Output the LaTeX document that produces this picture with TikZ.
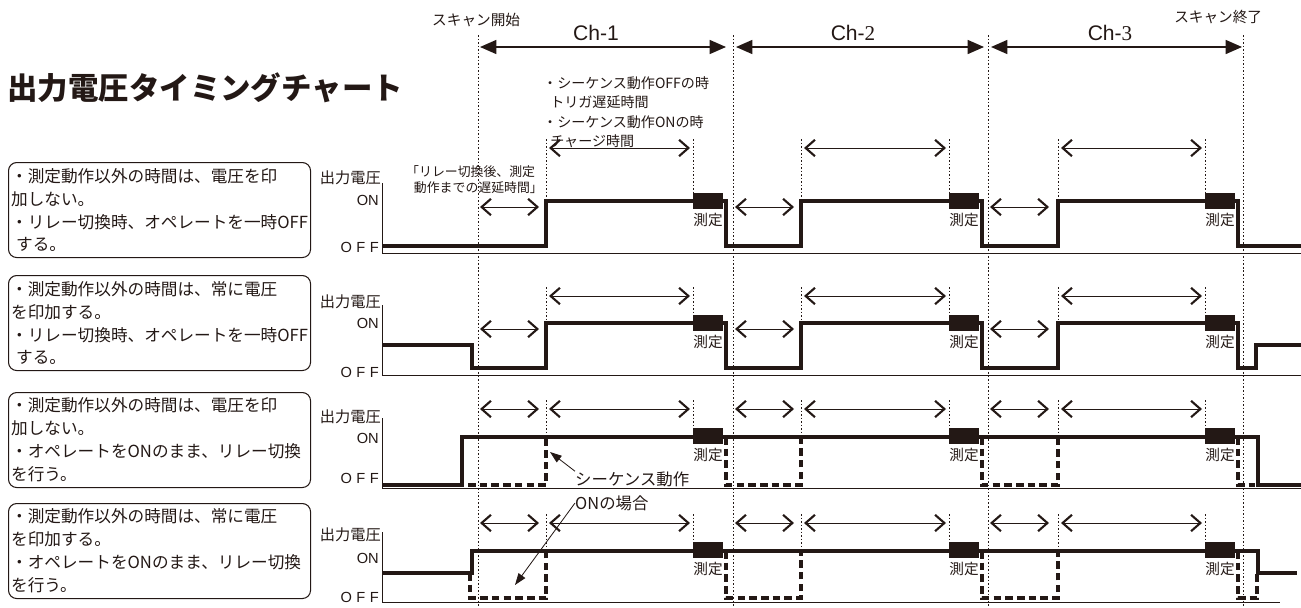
\documentclass[tikz,border=0pt]{standalone}
\usepackage{fontspec}
\setmainfont{Noto Sans CJK JP}
\newfontfamily\latinsf{Liberation Sans}
\newfontfamily\latinrm{Liberation Serif}
\usetikzlibrary{arrows.meta}
\definecolor{inkblack}{RGB}{35,24,21}
\tikzset{
  sig/.style={line width=3.1pt,draw=inkblack},
  sigdash/.style={line width=3.1pt,draw=inkblack,dash pattern=on 6.5pt off 3.5pt},
  guide/.style={line width=0.7pt,draw=inkblack,dash pattern=on 1.3pt off 1.7pt},
  axisline/.style={line width=0.8pt,draw=inkblack},
  chev/.tip={Straight Barb[length=8pt,width=14pt,line width=1.8pt]},
  span/.style={line width=0.8pt,draw=inkblack,chev-chev},
  chspan/.style={line width=1.2pt,draw=inkblack,{Triangle[length=14pt,width=12pt]}-{Triangle[length=14pt,width=12pt]}},
  pointer/.style={line width=0.7pt,draw=inkblack,-{Triangle[length=10pt,width=7pt]}},
  descbox/.style={draw=inkblack,text=inkblack,line width=0.9pt,rounded corners=7pt,anchor=north west,
    minimum width=9.06cm,minimum height=2.85cm,text width=8.9cm,inner xsep=1pt,
    align=left,font=\fontsize{14.2}{19.6}\selectfont},
  note/.style={text=inkblack,inner sep=0pt,align=left},
  axislabel/.style={text=inkblack,inner sep=0pt,anchor=east,font=\fontsize{13}{15}\selectfont},
  levellabel/.style={text=inkblack,inner sep=0pt,anchor=east,font=\latinsf\fontsize{12.5}{14}\selectfont},
  measlabel/.style={text=inkblack,inner sep=0pt,font=\fontsize{12.5}{14}\selectfont},
  chlabel/.style={text=inkblack,inner sep=0pt,font=\latinsf\fontsize{18}{20}\selectfont},
}

\begin{document}
\begin{tikzpicture}[x=0.03cm,y=-0.03cm]
  \useasboundingbox (0,0) rectangle (1301,607);

  \node[note,anchor=west,font=\fontsize{26}{30}\selectfont\bfseries] (title) at (7,88) {出力電圧タイミングチャート};

  % scan and channel frame
  \node[note,anchor=west,font=\fontsize{12.5}{14}\selectfont] (scanstart) at (432,20) {スキャン開始};
  \node[note,anchor=west,font=\fontsize{12.5}{14}\selectfont] (scanend) at (1174,17) {スキャン終了};
  \foreach \c in {478,733,988,1243}
    \draw[guide] (\c,35) -- (\c,607);
  \node[chlabel] (ch1) at (596,33) {Ch-1};
  \node[chlabel] (ch2) at (853,33) {Ch-{\latinrm 2}};
  \node[chlabel] (ch3) at (1110,33) {Ch-{\latinrm 3}};
  \draw[chspan] (480,47) -- (726,47);
  \draw[chspan] (736,47) -- (984,47);
  \draw[chspan] (991,47) -- (1242,47);

  \node[note,anchor=west,font=\fontsize{12}{16.6}\selectfont] (seqnote) at (543,112)
    {・シーケンス動作OFFの時\\\hspace{0.5em}トリガ遅延時間\\・シーケンス動作ONの時\\\hspace{0.5em}チャージ時間};
  \node[note,anchor=west,font=\fontsize{11}{13.7}\selectfont] (delaynote) at (406,180)
    {「リレー切換後、測定\\\hspace{0.6em}動作までの遅延時間」};

  % mode boxes
  \node[descbox] (mode1) at (8,162) {・測定動作以外の時間は、電圧を印\\加しない。\\・リレー切換時、オペレートを一時OFF\\\hspace{0.3em}する。};
  \node[descbox] (mode2) at (8,275) {・測定動作以外の時間は、常に電圧\\を印加する。\\・リレー切換時、オペレートを一時OFF\\\hspace{0.3em}する。};
  \node[descbox] (mode3) at (8,392) {・測定動作以外の時間は、電圧を印\\加しない。\\・オペレートをONのまま、リレー切換\\を行う。};
  \node[descbox] (mode4) at (8,503) {・測定動作以外の時間は、常に電圧\\を印加する。\\・オペレートをONのまま、リレー切換\\を行う。};

  % axes, spans and measurements of every row
  \foreach \r/\b/\lab/\on/\off/\xend/\ys/\yc in
    {1/253/-75/-53/-6/1301/-46/-105, 2/375/-73/-52/-3/1301/-46/-79,
     3/488/-71/-50/-10/1301/-79/-79, 4/602/-67/-44/-5/1280/-79/-79}
  {
    \begin{scope}[shift={(0,\b)}]
      \node[axislabel] (volt\r) at (381,\lab) {出力電圧};
      \node[levellabel] (on\r) at (379,\on) {ON};
      \node[levellabel] (off\r) at (379,\off) {\addfontfeature{LetterSpace=30}OFF};
      \draw[axisline] (382,-70) |- (\xend,0);
      \foreach \c/\rise/\meas [count=\k] in {478/546/693, 733/801/949, 988/1058/1205}
      {
        \draw[guide] (\rise,\yc-9) -- (\rise,-52);
        \draw[guide] (\meas,\yc-9) -- (\meas,-60);
        \draw[span] (\c+2,\ys) -- (\c+61,\ys);
        \draw[span] (\rise+3,\yc) -- (\meas-3,\yc);
        \fill[inkblack] (\meas,-60) rectangle (\meas+30,-44);
        \node[measlabel] (meas\r\k) at (\meas+15,-33) {測定};
      }
    \end{scope}
  }

  % output voltage
  \begin{scope}[shift={(0,253)}]
    \draw[sig] (382,-7) -| (546,-52) -| (726,-7) -| (801,-52) -| (982,-7) -| (1058,-52) -| (1238,-7) -- (1301,-7);
  \end{scope}
  \begin{scope}[shift={(0,375)}]
    \draw[sig] (382,-30) -| (472,-7) -| (546,-52) -| (726,-7) -| (801,-52) -| (982,-7) -| (1058,-52) -| (1238,-7) -| (1256,-30) -- (1301,-30);
  \end{scope}
  \begin{scope}[shift={(0,488)}]
    \draw[sig] (382,-3) -| (462,-51) -| (1258,-3) -- (1301,-3);
    \draw[sigdash] (468,-3) -| (546,-51);
    \foreach \f/\g in {726/801, 982/1058}
      \draw[sigdash] (\f,-51) |- (\g,-3) -- (\g,-51);
    \draw[sigdash] (1238,-51) |- (1255,-3);
  \end{scope}
  \begin{scope}[shift={(0,602)}]
    \draw[sig] (382,-29) -| (472,-51) -| (1258,-29) -- (1297,-29);
    \draw[sigdash] (470,-29) |- (546,-4) -- (546,-51);
    \foreach \f/\g in {726/801, 982/1058}
      \draw[sigdash] (\f,-51) |- (\g,-4) -- (\g,-51);
    \draw[sigdash] (1238,-51) |- (1257,-4) -- (1257,-29);
  \end{scope}

  \node[note,anchor=west,font=\fontsize{14}{16}\selectfont] (seqon) at (575,479) {シーケンス動作};
  \node[note,anchor=west,font=\fontsize{14}{16}\selectfont] (seqcase) at (575,503) {ONの場合};
  \coordinate (rise3) at (550,452);
  \coordinate (rise4) at (515,585);
  \draw[pointer] (seqon.north west) -- (rise3);
  \draw[pointer] (seqcase.west) -- (rise4);
\end{tikzpicture}
\end{document}
